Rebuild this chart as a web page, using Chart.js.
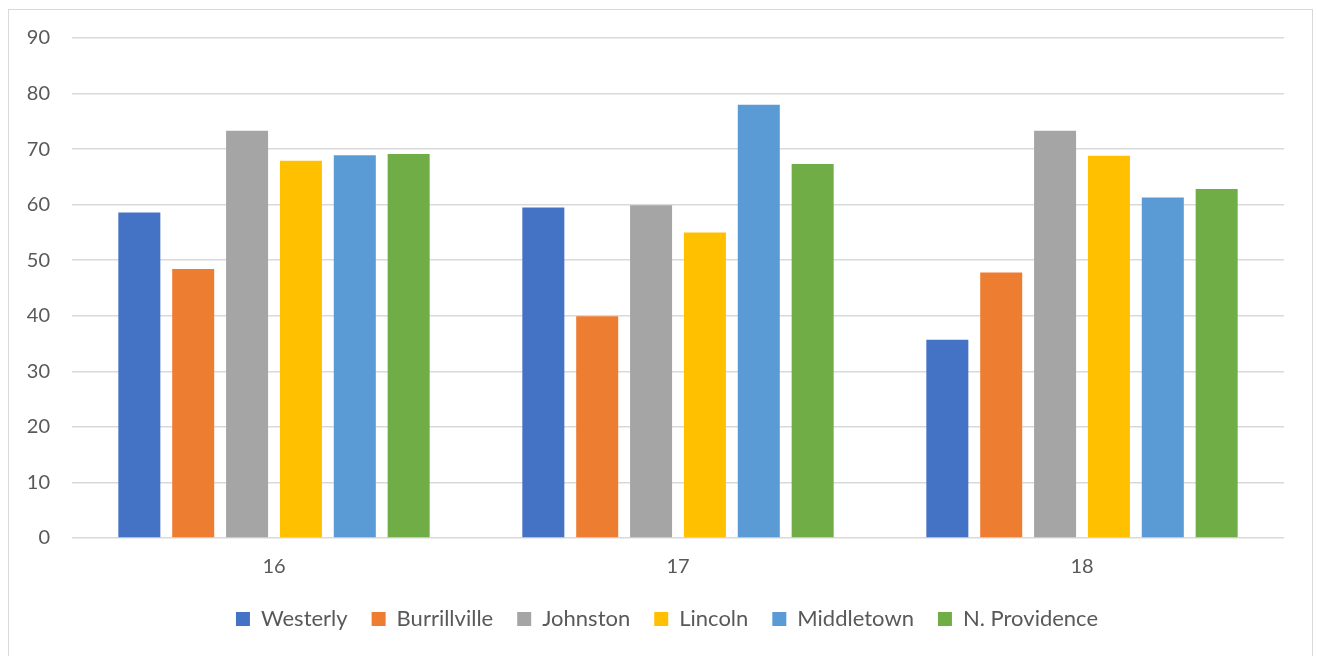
<!DOCTYPE html>
<html>
<head>
<meta charset="utf-8">
<script src="https://cdn.jsdelivr.net/npm/chart.js"></script>
<style>
  body { margin: 0; background: #fff; }
  #wrap { position: absolute; left: 8px; top: 9px; width: 1305px; height: 660px; border: 1px solid #d9d9d9; box-sizing: border-box; }
  #c { display: block; }
</style>
</head>
<body>
<div id="wrap"><canvas id="c" width="1303" height="658"></canvas></div>
<script>
// categorias e valores
const categories = ['16', '17', '18'];
const westerly = [58.6, 59.5, 35.7];
const burrillville = [48.4, 39.9, 47.8];
const johnston = [73.3, 59.9, 73.3];
const lincoln = [67.9, 55.0, 68.8];
const middletown = [68.9, 78.0, 61.3];
const nProvidence = [69.1, 67.3, 62.8];
const yTicks = [0, 10, 20, 30, 40, 50, 60, 70, 80, 90];

const seriesNames = ['Westerly', 'Burrillville', 'Johnston', 'Lincoln', 'Middletown', 'N. Providence'];
const seriesData = [westerly, burrillville, johnston, lincoln, middletown, nProvidence];
const colors = ['#4472c4', '#ed7d31', '#a5a5a5', '#ffc000', '#5b9bd5', '#70ad47'];

const font = 'Lato, "Open Sans", sans-serif';

// empurra a legenda um pouco para a direita, como no original
const legendShift = {
    id: 'legendShift',
    afterLayout(chart) {
        chart.legend.left += 16;
        chart.legend.right += 16;
    }
};

new Chart(document.getElementById('c').getContext('2d'), {
    type: 'bar',
    data: {
        labels: categories,
        datasets: seriesNames.map((name, i) => ({
            label: name,
            data: seriesData[i],
            backgroundColor: colors[i],
            borderWidth: 0,
            categoryPercentage: 0.8,
            barPercentage: 0.78
        }))
    },
    options: {
        responsive: false,
        animation: false,
        layout: { padding: { top: 28, right: 28, left: 9, bottom: 28 } },
        plugins: {
            tooltip: { enabled: false },
            legend: {
                position: 'bottom',
                labels: {
                    boxWidth: 14,
                    boxHeight: 14,
                    padding: 24,
                    color: '#595959',
                    font: { family: font, size: 22 }
                }
            }
        },
        scales: {
            x: {
                grid: { display: false },
                border: { display: false },
                afterFit: axis => { axis.height -= 4; },
                ticks: { color: '#595959', padding: 9, font: { family: font, size: 20 } }
            },
            y: {
                min: 0,
                max: 90,
                afterBuildTicks: axis => { axis.ticks = yTicks.map(v => ({ value: v })); },
                afterFit: axis => { axis.width = 54; axis.paddingTop = 0; axis.paddingBottom = 0; },
                grid: { color: '#d9d9d9', lineWidth: 1.5, drawTicks: false },
                border: { display: false },
                ticks: { color: '#595959', padding: 22, font: { family: font, size: 20 } }
            }
        }
    },
    plugins: [legendShift]
});
</script>
</body>
</html>
